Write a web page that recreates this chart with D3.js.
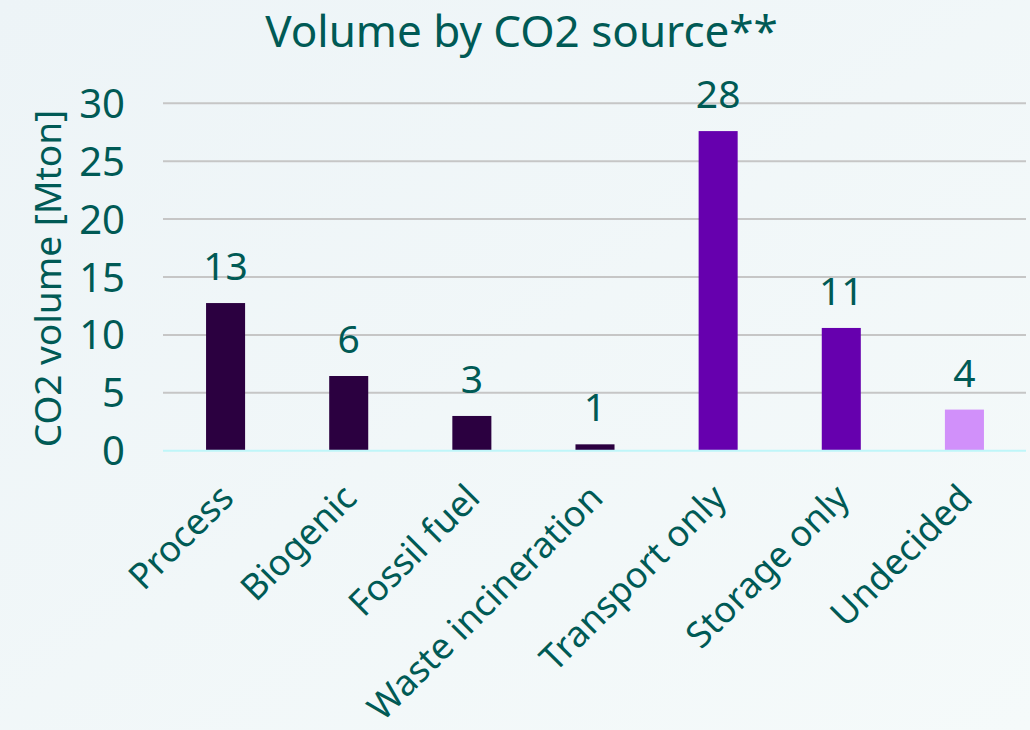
<!DOCTYPE html>
<html>
<head>
<meta charset="utf-8">
<script src="https://cdn.jsdelivr.net/npm/d3@7"></script>
<style>
  html, body { margin: 0; padding: 0; }
  body { width: 1030px; height: 730px; overflow: hidden; }
  svg { display: block; font-family: "Noto Sans", "Open Sans", sans-serif; }
</style>
</head>
<body>
<svg id="chart" width="1030" height="730"></svg>
<script>
// CO2 volume per source category, Mton
const categories = ["Process", "Biogenic", "Fossil fuel", "Waste incineration", "Transport only", "Storage only", "Undecided"];
const volumes = [12.75, 6.45, 3.0, 0.55, 27.6, 10.6, 3.55];
const barGroups = ["capture", "capture", "capture", "capture", "infra", "infra", "open"];
const yTicks = [0, 5, 10, 15, 20, 25, 30];

const groupColor = d3.scaleOrdinal()
  .domain(["capture", "infra", "open"])
  .range(["#2b0040", "#6600ae", "#d190fa"]);

const textColor = "#005a55";

const svg = d3.select("#chart");

// soft pale background
const defs = svg.append("defs");
const bg = defs.append("linearGradient").attr("id", "bg")
  .attr("x1", "0").attr("y1", "0").attr("x2", "1").attr("y2", "1");
bg.append("stop").attr("offset", "0").attr("stop-color", "#edf4f7");
bg.append("stop").attr("offset", "1").attr("stop-color", "#f5fafa");
svg.append("rect").attr("width", 1030).attr("height", 730).attr("fill", "url(#bg)");

const x = d3.scaleBand()
  .domain(categories)
  .range([164, 1026])
  .paddingInner(0.683)
  .paddingOuter(0.3415);

const y = d3.scaleLinear()
  .domain([0, 30])
  .range([450.7, 103.3]);

const gridLeft = 163, gridRight = 1026;

// horizontal gridlines
svg.append("g").selectAll("line")
  .data(yTicks.filter(t => t > 0))
  .join("line")
  .attr("x1", gridLeft).attr("x2", gridRight)
  .attr("y1", d => y(d)).attr("y2", d => y(d))
  .attr("stroke", "#c6c6c6")
  .attr("stroke-width", 2);

// y axis tick labels
const yAxis = d3.axisLeft(y).tickValues(yTicks).tickSize(0).tickPadding(0);
const yG = svg.append("g").attr("transform", "translate(125,0)").call(yAxis);
yG.select(".domain").remove();
yG.selectAll("text")
  .attr("fill", textColor)
  .attr("font-size", 40)
  .attr("font-family", "Noto Sans, sans-serif")
  .attr("dy", "0.35em");

// y axis title
svg.append("text")
  .attr("transform", `translate(61,${(112 + 445) / 2}) rotate(-90)`)
  .attr("text-anchor", "middle")
  .attr("fill", textColor)
  .attr("font-size", 37)
  .text("CO2 volume [Mton]");

// bars
svg.append("g").selectAll("rect")
  .data(categories)
  .join("rect")
  .attr("x", d => x(d))
  .attr("width", x.bandwidth())
  .attr("y", (d, i) => y(volumes[i]))
  .attr("height", (d, i) => y(0) - y(volumes[i]))
  .attr("fill", (d, i) => groupColor(barGroups[i]));

// baseline
svg.append("line")
  .attr("x1", gridLeft).attr("x2", gridRight)
  .attr("y1", y(0)).attr("y2", y(0))
  .attr("stroke", "#bff6f9")
  .attr("stroke-width", 2);

// value labels
const fmt = d3.format(".0f");
svg.append("g").selectAll("text")
  .data(categories)
  .join("text")
  .attr("x", d => x(d) + x.bandwidth() / 2)
  .attr("y", (d, i) => y(volumes[i]) - 23)
  .attr("text-anchor", "middle")
  .attr("fill", textColor)
  .attr("font-size", 39)
  .text((d, i) => fmt(volumes[i]));

// rotated category labels
const xAxis = d3.axisBottom(x).tickSize(0).tickPadding(0);
const xG = svg.append("g").call(xAxis);
xG.select(".domain").remove();
xG.selectAll(".tick").attr("transform", d => `translate(${x(d) + x.bandwidth() / 2 + 10},500)`);
xG.selectAll("text")
  .attr("y", 0)
  .attr("dy", 0)
  .attr("transform", "rotate(-45)")
  .attr("text-anchor", "end")
  .attr("fill", textColor)
  .attr("font-size", 36)
  .attr("font-family", "Noto Sans, sans-serif");

// chart title
svg.append("text")
  .attr("x", (268 + 775) / 2)
  .attr("y", 46.7)
  .attr("text-anchor", "middle")
  .attr("fill", textColor)
  .attr("font-size", 44)
  .text("Volume by CO2 source**");
</script>
</body>
</html>
